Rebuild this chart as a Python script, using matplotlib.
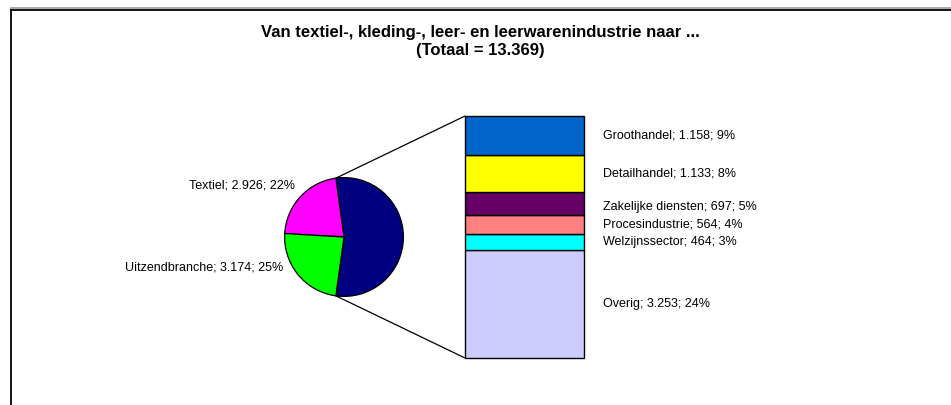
import numpy as np
import matplotlib
matplotlib.use("Agg")
from matplotlib import pyplot as plt
from matplotlib.patches import ConnectionPatch
from matplotlib.lines import Line2D

plt.rcParams['font.family'] = ['Liberation Sans', 'DejaVu Sans']

title = "Van textiel-, kleding-, leer- en leerwarenindustrie naar ...\n(Totaal = 13.369)"

# pie part
pie_labels = ["Textiel", "Uitzendbranche"]
pie_values = [2926, 3174]
pie_pct = [22, 25]
pie_colors = ["#FF00FF", "#00FF00"]
other_color = "#000080"

# bar part (top to bottom)
bar_labels = ["Groothandel", "Detailhandel", "Zakelijke diensten",
              "Procesindustrie", "Welzijnssector", "Overig"]
bar_values = [1158, 1133, 697, 564, 464, 3253]
bar_pct = [9, 8, 5, 4, 3, 24]
bar_colors = ["#0066CC", "#FFFF00", "#660066", "#FF8080", "#00FFFF", "#CCCCFF"]

W, H = 951, 405


def fmt(v):
    return f"{v:,}".replace(",", ".")


def fx(px):
    return px / W


def fy(py):
    return 1 - py / H


fig = plt.figure(figsize=(W / 100, H / 100), dpi=100)

# chart frame (cut off at right and bottom, like the source)
fig.add_artist(Line2D([fx(11), 1], [fy(7.5), fy(7.5)], color="#999999", lw=1.2))
fig.add_artist(Line2D([fx(11), 1], [fy(9.5), fy(9.5)], color="black", lw=1.3))
fig.add_artist(Line2D([fx(11), fx(11)], [fy(9.5), 0], color="black", lw=1.3))

fig.text(fx(480), fy(41.5), title, ha="center", va="center", fontsize=12.0,
         fontweight="bold", linespacing=1.3)

# pie
total = sum(pie_values) + sum(bar_values)
other = sum(bar_values)
cx, cy, r = 344, 237, 60
ax_pie = fig.add_axes([fx(cx - r), fy(cy + r), 2 * r / W, 2 * r / H])
start = 180 * other / total
ax_pie.pie([other] + pie_values, colors=[other_color] + pie_colors,
           startangle=-start, counterclock=True,
           wedgeprops=dict(edgecolor="black", linewidth=0.9))
ax_pie.set_xlim(-1.01, 1.01)
ax_pie.set_ylim(-1.01, 1.01)
ax_pie.set_aspect("auto")
ax_pie.axis("off")

label_pos = [(295, 185), (283, 267)]
for lab, v, p, (lx, ly) in zip(pie_labels, pie_values, pie_pct, label_pos):
    fig.text(fx(lx), fy(ly), f"{lab}; {fmt(v)}; {p}%", ha="right", va="center",
             fontsize=9.0)

# bar of the "other" slice
bx0, bx1, by0, by1 = 465, 584, 116, 358
ax_bar = fig.add_axes([fx(bx0), fy(by1), (bx1 - bx0) / W, (by1 - by0) / H])
bottoms = np.cumsum([0] + bar_values[::-1])[:-1]
for v, b, c in zip(bar_values[::-1], bottoms, bar_colors[::-1]):
    ax_bar.bar(0, v, bottom=b, width=1, color=c, edgecolor="black",
               linewidth=1.0, clip_on=False)
ax_bar.set_xlim(-0.5, 0.5)
ax_bar.set_ylim(0, other)
ax_bar.axis("off")

mids = (bottoms + np.array(bar_values[::-1]) / 2)[::-1]
offs = [0, 0, -3, 0, 0, 0]
for lab, v, p, m, o in zip(bar_labels, bar_values, bar_pct, mids, offs):
    ax_bar.annotate(f"{lab}; {fmt(v)}; {p}%", xy=(0.5, m), xycoords="data",
                    xytext=(19, o), textcoords="offset pixels",
                    ha="left", va="center", fontsize=9.0)

# connector lines from the pie edge to the bar corners
ang = np.deg2rad(start)
for sgn, yb in [(1, other), (-1, 0)]:
    con = ConnectionPatch(xyA=(np.cos(ang), sgn * np.sin(ang)), coordsA=ax_pie.transData,
                          xyB=(-0.5, yb), coordsB=ax_bar.transData,
                          color="black", lw=0.9)
    fig.add_artist(con)

fig.savefig("out.png", dpi=100)
